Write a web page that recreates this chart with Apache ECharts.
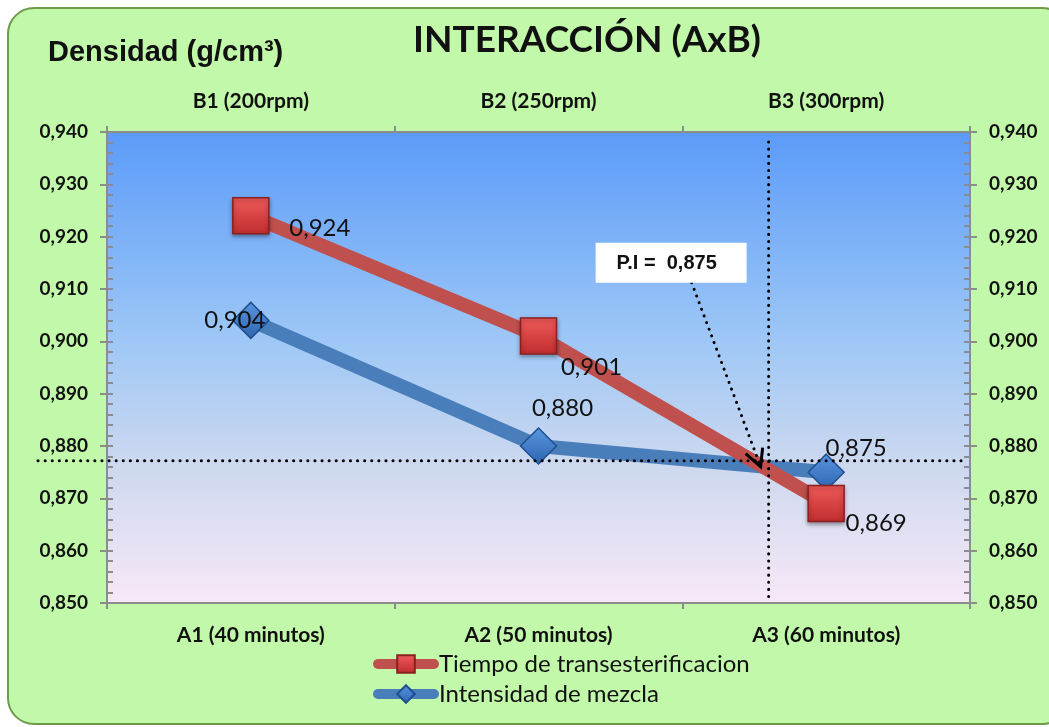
<!DOCTYPE html>
<html>
<head>
<meta charset="utf-8">
<script src="https://cdn.jsdelivr.net/npm/echarts@6/dist/echarts.min.js"></script>
<style>
  html, body { margin: 0; padding: 0; background: #ffffff; }
  #main { width: 1049px; height: 727px; }
</style>
</head>
<body>
<div id="main"></div>
<script>
// categorias (eje inferior y superior)
const categoriasA = ["A1 (40 minutos)", "A2 (50 minutos)", "A3 (60 minutos)"];
const categoriasB = ["B1 (200rpm)", "B2 (250rpm)", "B3 (300rpm)"];
// series
const tiempo = [0.924, 0.901, 0.869];
const intensidad = [0.904, 0.880, 0.875];
// punto de interseccion
const piValor = 0.8772;
const piCategoria = 1.8;
const piTexto = "P.I =  0,875";

const fmt = v => v.toFixed(3).replace(".", ",");

// offsets de etiquetas (estilo, no datos)
const offTiempo = [[69, 13], [53, 31], [50, 20]];
const offIntens = [[-16, 0], [24, -38], [30, -24]];

const chart = echarts.init(document.getElementById("main"));

const yBase = {
  type: "value", min: 0.85, max: 0.94, interval: 0.01,
  splitLine: { show: false },
  axisLine: { show: true, lineStyle: { color: "#8c8c8c", width: 2 } }
};
const yLabel = {
  show: true, margin: 19, color: "#111", fontWeight: "bold",
  fontSize: 19, fontFamily: "Lato", formatter: fmt
};
const xLabel = { margin: 22, color: "#111", fontWeight: "bold", fontSize: 21, fontFamily: "Lato" };

function mkLabels(offs) {
  return offs.map(o => ({
    show: true, offset: o, position: "inside", color: "#111",
    fontSize: 24, fontFamily: "Lato", formatter: p => fmt(p.value)
  }));
}

const fondo = [
  {
    type: "rect", z: -10, silent: true,
    shape: { x: 8, y: 8, width: 1060, height: 716, r: 26 },
    style: { fill: "#c2f8a9", stroke: "#6e9a4a", lineWidth: 2 }
  },
  {
    type: "text", left: 48, top: 38, z: 10,
    style: { text: "Densidad (g/cm³)", font: "bold 29px 'Liberation Sans'", fill: "#111" }
  }
];

chart.setOption({
  backgroundColor: "#ffffff",
  animation: false,
  title: {
    text: "INTERACCIÓN (AxB)", left: 582, top: 17, textAlign: "center",
    textStyle: { fontFamily: "Lato", fontWeight: "bold", fontSize: 37, color: "#111" }
  },
  grid: {
    left: 107, right: 79, top: 132, bottom: 124, show: true, borderWidth: 0,
    backgroundColor: new echarts.graphic.LinearGradient(0, 0, 0, 1, [
      { offset: 0, color: "#5b9bf9" },
      { offset: 0.45, color: "#9fc8f6" },
      { offset: 0.7, color: "#cbd8ef" },
      { offset: 1, color: "#f7e8f7" }
    ])
  },
  legend: {
    left: 373, top: 652, padding: 0, orient: "vertical", itemWidth: 56, itemHeight: 22, itemGap: 6,
    textStyle: { fontSize: 24, fontFamily: "Lato", color: "#111" },
    data: [
      { name: "Tiempo de transesterificacion", lineStyle: { width: 10, cap: "round" } },
      { name: "Intensidad de mezcla", lineStyle: { width: 10, cap: "round" } }
    ]
  },
  xAxis: [
    {
      type: "category", data: categoriasA, position: "bottom",
      axisLine: { lineStyle: { color: "#8c8c8c", width: 2 } },
      axisTick: { show: true, length: 6, lineStyle: { color: "#8c8c8c", width: 2 } },
      axisLabel: xLabel
    },
    {
      type: "category", data: categoriasB, position: "top",
      axisLine: { lineStyle: { color: "#8c8c8c", width: 2 } },
      axisTick: { show: true, length: 6, lineStyle: { color: "#8c8c8c", width: 2 } },
      axisLabel: Object.assign({}, xLabel, { margin: 20 })
    }
  ],
  yAxis: [
    Object.assign({}, yBase, {
      position: "left",
      axisTick: { show: true, length: 7, lineStyle: { color: "#8c8c8c", width: 2 } },
      axisLabel: yLabel
    }),
    Object.assign({}, yBase, {
      position: "right",
      axisTick: { show: true, length: 7, lineStyle: { color: "#8c8c8c", width: 2 } },
      axisLabel: yLabel
    }),
    Object.assign({}, yBase, {
      position: "left",
      axisTick: { show: true, inside: true, length: 6, lineStyle: { color: "#8c8c8c", width: 2 } },
      minorTick: { show: true, splitNumber: 5, length: 6, lineStyle: { color: "#8c8c8c", width: 2 } },
      axisLabel: { show: false }
    }),
    Object.assign({}, yBase, {
      position: "right",
      axisTick: { show: true, inside: true, length: 6, lineStyle: { color: "#8c8c8c", width: 2 } },
      minorTick: { show: true, splitNumber: 5, length: 6, lineStyle: { color: "#8c8c8c", width: 2 } },
      axisLabel: { show: false }
    })
  ],
  series: [
    {
      name: "Tiempo de transesterificacion", type: "line", xAxisIndex: 0, yAxisIndex: 0,
      symbol: "rect", symbolSize: 36, z: 3,
      lineStyle: { color: "#c0504d", width: 14 },
      itemStyle: {
        color: new echarts.graphic.LinearGradient(0, 0, 0, 1, [
          { offset: 0, color: "#f05a5a" }, { offset: 1, color: "#bf2d2d" }
        ]),
        borderColor: "#8a2020", borderWidth: 1.5,
        shadowColor: "rgba(0,0,0,0.35)", shadowBlur: 4, shadowOffsetY: 2
      },
      data: tiempo.map((v, i) => ({ value: v, label: mkLabels(offTiempo)[i] }))
    },
    {
      name: "Intensidad de mezcla", type: "line", xAxisIndex: 0, yAxisIndex: 0,
      symbol: "diamond", symbolSize: 36, z: 2,
      lineStyle: { color: "#4a7ebb", width: 14 },
      itemStyle: {
        color: new echarts.graphic.LinearGradient(0, 0, 0, 1, [
          { offset: 0, color: "#5a96e0" }, { offset: 1, color: "#2d64b0" }
        ]),
        borderColor: "#1f4f8f", borderWidth: 1.5
      },
      data: intensidad.map((v, i) => ({ value: v, label: mkLabels(offIntens)[i] }))
    }
  ],
  graphic: fondo
});

// lineas de interseccion, calculadas con las escalas del grafico
const p1 = chart.convertToPixel({ xAxisIndex: 0 }, 1);
const p2 = chart.convertToPixel({ xAxisIndex: 0 }, 2);
const px = p1 + (p2 - p1) * (piCategoria - 1);
const py = chart.convertToPixel({ yAxisIndex: 0 }, piValor);
const yTop = chart.convertToPixel({ yAxisIndex: 0 }, 0.94);
const yBot = chart.convertToPixel({ yAxisIndex: 0 }, 0.85);
const dot = { stroke: "#000", lineWidth: 3, lineDash: [0.1, 7], lineCap: "round" };

chart.setOption({
  graphic: fondo.concat([
    { type: "line", z: 20, shape: { x1: 38, y1: py, x2: 962, y2: py }, style: dot },
    { type: "line", z: 20, shape: { x1: px, y1: yTop + 10, x2: px, y2: yBot }, style: dot },
    { type: "line", z: 20, shape: { x1: px - 77, y1: py - 178, x2: px - 8, y2: py + 6 }, style: dot },
    {
      type: "polyline", z: 21,
      shape: { points: [[px - 23, py - 7], [px - 8, py + 6], [px - 6, py - 13]] },
      style: { stroke: "#000", lineWidth: 3, fill: null }
    },
    {
      type: "rect", z: 20, shape: { x: px - 173, y: py - 218, width: 151, height: 40 },
      style: { fill: "#ffffff" }
    },
    {
      type: "text", z: 21, x: px - 102, y: py - 197,
      style: {
        text: piTexto, font: "bold 20px 'Liberation Sans'", fill: "#111",
        align: "center", verticalAlign: "middle"
      }
    }
  ])
});
</script>
</body>
</html>
